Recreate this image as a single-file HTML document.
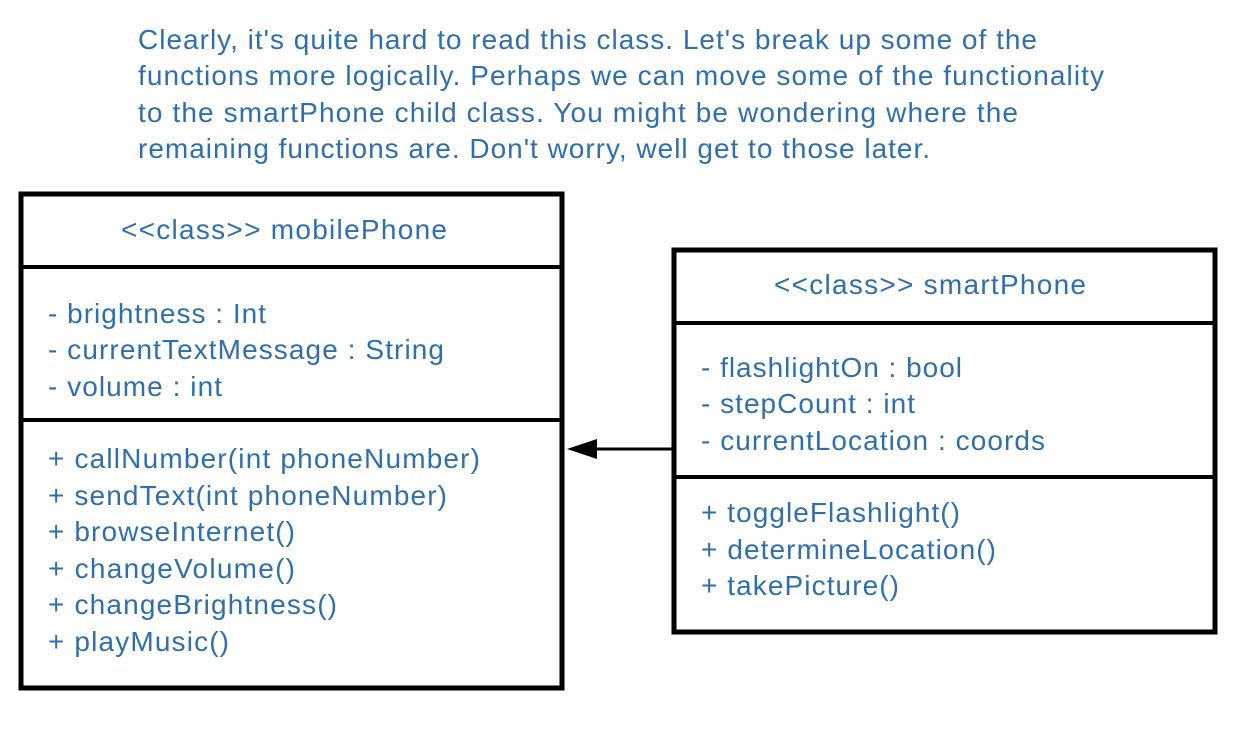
<!DOCTYPE html>
<html><head><style>body{margin:0;background:#fff}svg{display:block}text{font-family:"Liberation Sans",sans-serif;font-size:28px;fill:#2f6fad}</style></head>
<body>
<svg width="1246" height="744" viewBox="0 0 1246 744">
<text x="138" y="49" textLength="899" lengthAdjust="spacing">Clearly, it's quite hard to read this class. Let's break up some of the</text>
<text x="138" y="85" textLength="966" lengthAdjust="spacing">functions more logically. Perhaps we can move some of the functionality</text>
<text x="138" y="122" textLength="880" lengthAdjust="spacing">to the smartPhone child class. You might be wondering where the</text>
<text x="138" y="158" textLength="792" lengthAdjust="spacing">remaining functions are. Don't worry, well get to those later.</text>
<rect x="21" y="194" width="541" height="494" fill="none" stroke="#000" stroke-width="5"/>
<line x1="21" y1="267" x2="562" y2="267" stroke="#000" stroke-width="4"/>
<line x1="21" y1="420" x2="562" y2="420" stroke="#000" stroke-width="4"/>
<text x="121" y="239" textLength="326" lengthAdjust="spacing">&lt;&lt;class&gt;&gt; mobilePhone</text>
<text x="48" y="323" textLength="218" lengthAdjust="spacing">- brightness : Int</text>
<text x="48" y="359" textLength="396" lengthAdjust="spacing">- currentTextMessage : String</text>
<text x="48" y="396" textLength="174" lengthAdjust="spacing">- volume : int</text>
<text x="48" y="468" textLength="432" lengthAdjust="spacing">+ callNumber(int phoneNumber)</text>
<text x="48" y="505" textLength="399" lengthAdjust="spacing">+ sendText(int phoneNumber)</text>
<text x="48" y="541" textLength="247" lengthAdjust="spacing">+ browseInternet()</text>
<text x="48" y="578" textLength="247" lengthAdjust="spacing">+ changeVolume()</text>
<text x="48" y="614" textLength="289" lengthAdjust="spacing">+ changeBrightness()</text>
<text x="48" y="651" textLength="181" lengthAdjust="spacing">+ playMusic()</text>
<rect x="674" y="250" width="541" height="382" fill="none" stroke="#000" stroke-width="5"/>
<line x1="674" y1="323" x2="1215" y2="323" stroke="#000" stroke-width="4"/>
<line x1="674" y1="477" x2="1215" y2="477" stroke="#000" stroke-width="4"/>
<text x="774" y="294" textLength="312" lengthAdjust="spacing">&lt;&lt;class&gt;&gt; smartPhone</text>
<text x="701" y="377" textLength="261" lengthAdjust="spacing">- flashlightOn : bool</text>
<text x="701" y="413" textLength="214" lengthAdjust="spacing">- stepCount : int</text>
<text x="701" y="450" textLength="344" lengthAdjust="spacing">- currentLocation : coords</text>
<text x="701" y="522" textLength="259" lengthAdjust="spacing">+ toggleFlashlight()</text>
<text x="701" y="559" textLength="295" lengthAdjust="spacing">+ determineLocation()</text>
<text x="701" y="595" textLength="198" lengthAdjust="spacing">+ takePicture()</text>
<line x1="595" y1="449" x2="673" y2="449" stroke="#000" stroke-width="3"/>
<polygon points="567,449 597,439 597,459" fill="#000"/>
</svg>
</body></html>
